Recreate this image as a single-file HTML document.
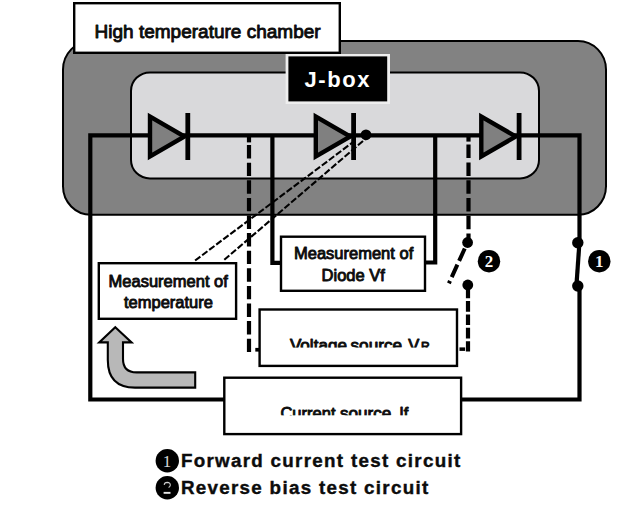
<!DOCTYPE html>
<html>
<head>
<meta charset="utf-8">
<title>Test circuit</title>
<style>
  html, body { margin: 0; padding: 0; background: #ffffff; }
  body { width: 640px; height: 511px; overflow: hidden; font-family: "Liberation Sans", sans-serif; }
  svg { display: block; }
  text { font-family: "Liberation Sans", sans-serif; }
  .lbl { font-size: 16.5px; fill: #0c0c0c; stroke: #0c0c0c; stroke-width: 0.9px; stroke-linejoin: round; }
  .ser { font-family: "Liberation Serif", serif; font-weight: bold; fill: #ffffff; }
</style>
</head>
<body>
<svg width="640" height="511" viewBox="0 0 640 511">
  <defs>
    <clipPath id="clipV"><rect x="250" y="320" width="220" height="27.6"/></clipPath>
    <clipPath id="clipI"><rect x="220" y="390" width="250" height="25.2"/></clipPath>
  </defs>
  <rect x="0" y="0" width="640" height="511" fill="#ffffff"/>

  <!-- High temperature chamber -->
  <rect x="63" y="41" width="543" height="173.8" rx="28" ry="28.5" fill="#828282" stroke="#000" stroke-width="2"/>
  <!-- J-box inner area -->
  <rect x="131" y="72.4" width="408" height="106" rx="19" ry="18.5" fill="#d9d9db" stroke="#000" stroke-width="2"/>

  <!-- thin dashed sensing lines -->
  <g stroke="#000" stroke-width="2.1" stroke-dasharray="6.6 2.2" fill="none">
    <line x1="195.1" y1="260.5" x2="356" y2="139.9"/>
    <line x1="224.3" y1="259.8" x2="365" y2="139.3"/>
  </g>

  <!-- main solid wires -->
  <g stroke="#000" stroke-width="4.2" fill="none" stroke-linejoin="miter" stroke-linecap="butt">
    <polyline points="224,399.5 90.3,399.5 90.3,135.3 579.5,135.3 579.5,243"/>
    <polyline points="462,399.5 579.5,399.5 579.5,286"/>
    <line x1="579.4" y1="243" x2="576.4" y2="286"/>
    <polyline points="272.4,135 272.4,262.8 280,262.8"/>
    <polyline points="435.2,135 435.2,262.5 426,262.5"/>
  </g>
  <!-- dashed thick wires -->
  <g stroke="#000" stroke-width="4.2" fill="none">
    <line x1="249" y1="135" x2="249" y2="142.4"/>
    <line x1="249" y1="145.1" x2="249" y2="352.4" stroke-dasharray="13.4 4.2"/>
    <line x1="468.5" y1="135" x2="468.5" y2="141.6"/>
    <line x1="468.5" y1="144.6" x2="468.5" y2="243" stroke-dasharray="13.5 4.3"/>
    <line x1="468" y1="287.6" x2="468" y2="351.6" stroke-dasharray="10.7 2.7"/>
    <line x1="467.5" y1="242.5" x2="448.9" y2="283.3" stroke-dasharray="13.6 4.2" stroke-dashoffset="11.2" stroke-width="4"/>
  </g>
  <g fill="#000" stroke="none">
    <rect x="255.3" y="347.9" width="4.4" height="3.7"/>
    <rect x="459.5" y="347.4" width="5.6" height="3.5"/>
  </g>

  <!-- diodes -->
  <g stroke="#000" stroke-width="4.4" stroke-linejoin="miter" fill="#808080">
    <polygon points="150,116.5 150,156.5 184.5,136.5"/>
    <polygon points="315.8,116.5 315.8,156.5 350.3,136.5"/>
    <polygon points="481.3,116.5 481.3,156.5 515.8,136.5"/>
  </g>
  <g stroke="#000" stroke-width="4.8" fill="none">
    <line x1="187.8" y1="113" x2="187.8" y2="160"/>
    <line x1="353.6" y1="113" x2="353.6" y2="160"/>
    <line x1="519.1" y1="113" x2="519.1" y2="160"/>
  </g>
  <circle cx="366" cy="134.8" r="5.4" fill="#000"/>

  <!-- switch dots -->
  <circle cx="467.6" cy="242.5" r="5.4" fill="#000"/>
  <circle cx="467.8" cy="285" r="5.4" fill="#000"/>
  <circle cx="577.8" cy="242.7" r="5.7" fill="#000"/>
  <circle cx="577.8" cy="286" r="5.7" fill="#000"/>

  <!-- Chamber label -->
  <rect x="74.2" y="3.2" width="265.6" height="49.6" fill="#fff" stroke="#000" stroke-width="2.4"/>
  <text x="94.6" y="38" style="font-size:19px;fill:#0c0c0c;stroke:#0c0c0c;stroke-width:0.9px;stroke-linejoin:round">High temperature chamber</text>

  <!-- J-box label -->
  <rect x="285.6" y="54" width="104.4" height="50" fill="#eeeeee"/>
  <rect x="288.4" y="56.4" width="98.8" height="45" fill="#000"/>
  <text x="304.5" y="87" style="font-size:22px;font-weight:bold;fill:#fff;letter-spacing:1.6px">J-box</text>

  <!-- Measurement of diode Vf -->
  <rect x="281" y="236.7" width="144" height="54.1" fill="#fff" stroke="#000" stroke-width="2.4"/>
  <text class="lbl" x="294" y="259.4">Measurement of</text>
  <text class="lbl" x="321.6" y="281.2">Diode Vf</text>

  <!-- Measurement of temperature -->
  <rect x="98.8" y="263.2" width="137.3" height="55.6" fill="#fff" stroke="#000" stroke-width="2.4"/>
  <text class="lbl" x="108.6" y="286.8">Measurement of</text>
  <text class="lbl" x="124" y="308.3">temperature</text>

  <!-- Voltage source -->
  <rect x="259.6" y="309.5" width="197.4" height="56.4" fill="#fff" stroke="#000" stroke-width="2.4"/>
  <g clip-path="url(#clipV)">
    <text class="lbl" x="289.9" y="351.3" textLength="57" lengthAdjust="spacingAndGlyphs">Voltage</text>
    <text class="lbl" x="350.5" y="351.3" textLength="51.6" lengthAdjust="spacingAndGlyphs">source</text>
    <text class="lbl" x="408.3" y="351.3">V</text>
    <text class="lbl" x="421" y="350.6" style="font-size:12px">R</text>
  </g>

  <!-- Current source -->
  <rect x="224.3" y="377.7" width="236.8" height="56.4" fill="#fff" stroke="#000" stroke-width="2.4"/>
  <g clip-path="url(#clipI)">
    <text class="lbl" x="280.4" y="418.8" textLength="55.2" lengthAdjust="spacingAndGlyphs">Current</text>
    <text class="lbl" x="340" y="418.8" textLength="51.4" lengthAdjust="spacingAndGlyphs">source</text>
    <text class="lbl" x="399.2" y="418.8">If</text>
  </g>

  <!-- arrow -->
  <path d="M115.3,327.2 L131.6,342.4 L123,342.4 L123,359 Q123,372.4 136.6,372.4 L195.2,372.4 L195.2,387.6 L135,387.6 Q107.8,387.6 107.8,360 L107.8,342.4 L99.2,342.4 Z" fill="#b8b8b8" stroke="#000" stroke-width="2.1" stroke-linejoin="miter"/>

  <!-- numbered circles -->
  <circle cx="489" cy="261.2" r="11.2" fill="#000"/>
  <text class="ser" x="489" y="267" text-anchor="middle" style="font-size:17px">2</text>
  <circle cx="599.3" cy="261.2" r="11.2" fill="#000"/>
  <text class="ser" x="599.3" y="266.9" text-anchor="middle" style="font-size:17px;fill:#f4f4f4">1</text>

  <!-- legend -->
  <circle cx="167.3" cy="460.8" r="11.7" fill="#000"/>
  <text class="ser" x="167.1" y="466.9" text-anchor="middle" style="font-size:17px;font-weight:normal;fill:#d8d8d8">1</text>
  <circle cx="167.3" cy="487.8" r="11.7" fill="#000"/>
  <path d="M164.2,484.9 Q164.4,482.4 167.2,482.4 Q170.4,482.5 170.3,485.2 Q170.2,486.6 168.6,487.4" fill="none" stroke="#cfcfcf" stroke-width="1.1"/>
  <rect x="163.6" y="491.9" width="6.9" height="1.9" fill="#e6e6e6"/>
  <text x="180.9" y="467.2" style="font-size:18.8px;font-weight:bold;fill:#0c0c0c;stroke:#0c0c0c;stroke-width:0.4px;letter-spacing:1.3px">Forward current test circuit</text>
  <text x="180.9" y="494.2" style="font-size:18.8px;font-weight:bold;fill:#0c0c0c;stroke:#0c0c0c;stroke-width:0.4px;letter-spacing:1.3px">Reverse bias test circuit</text>
</svg>
</body>
</html>
